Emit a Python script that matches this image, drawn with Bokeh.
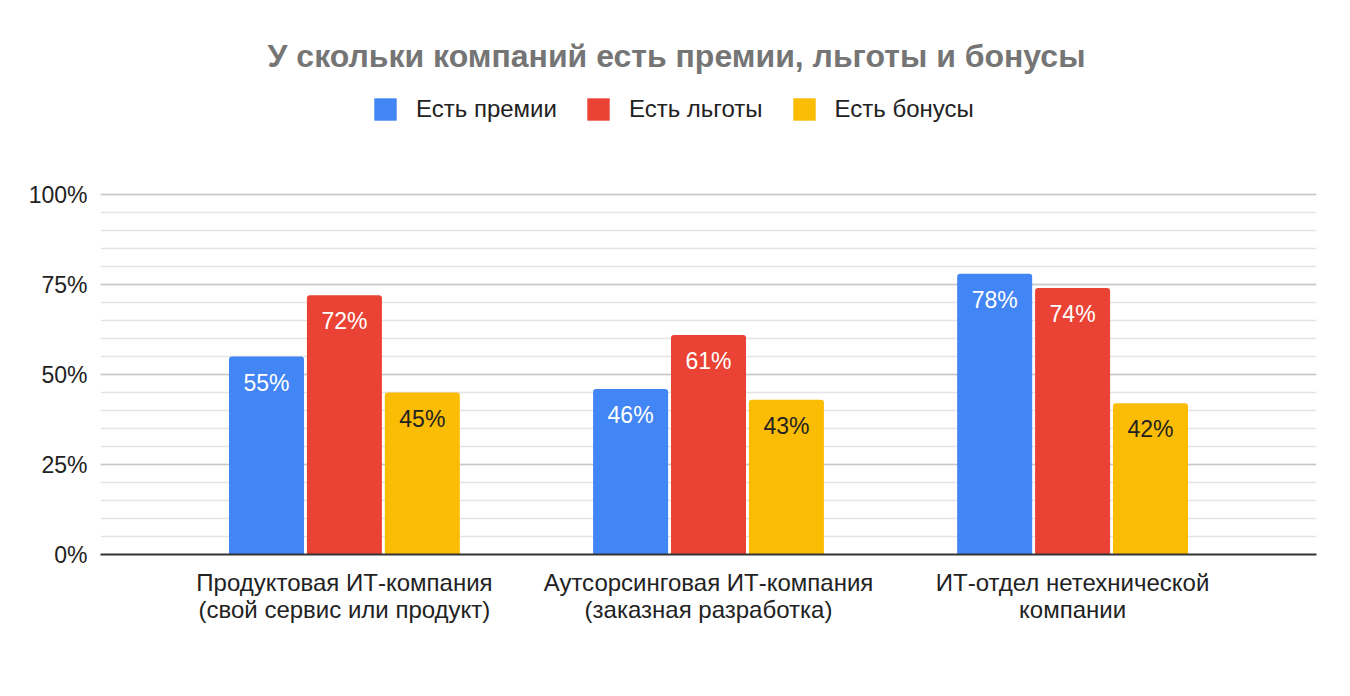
from bokeh.plotting import figure
from bokeh.models import ColumnDataSource, Range1d, FixedTicker, Legend, LegendItem, Label
from bokeh.transform import dodge
from bokeh.core.properties import value
from bokeh.embed import file_html
from bokeh.resources import INLINE

# ---- data ----
categories = [
    "Продуктовая ИТ-компания\n(свой сервис или продукт)",
    "Аутсорсинговая ИТ-компания\n(заказная разработка)",
    "ИТ-отдел нетехнической\nкомпании",
]
series_names = ["Есть премии", "Есть льготы", "Есть бонусы"]
premii = [55, 46, 78]
lgoty = [72, 61, 74]
bonusy = [45, 43, 42]
y_ticks = [0, 25, 50, 75, 100]
y_tick_labels = ["0%", "25%", "50%", "75%", "100%"]
title_text = "У скольки компаний есть премии, льготы и бонусы"

# ---- styles ----
colors = ["#4285F4", "#EA4335", "#FBBC04"]
label_colors = ["#FFFFFF", "#FFFFFF", "#222222"]
offsets = [-0.214, 0.0, 0.214]
bar_w = 0.206
AX_FONT = "Liberation Sans"
LEG_FONT = "Liberation Sans"

W, H = 1350, 696
BOTTOM = 142
frame_h = H - BOTTOM          # 554 px; 100% spans 360 px
y_end = 100 * frame_h / 360.0

p = figure(width=W, height=H, output_backend="svg", toolbar_location=None,
           x_range=Range1d(-0.67, 2.67), y_range=Range1d(0, y_end),
           min_border_left=100, min_border_right=34, min_border_top=0,
           min_border_bottom=BOTTOM)
p.outline_line_color = None
p.background_fill_color = "#ffffff"
p.border_fill_color = "#ffffff"

xs = list(range(len(categories)))
series = [premii, lgoty, bonusy]
items = []
for i, (name, vals) in enumerate(zip(series_names, series)):
    src = ColumnDataSource(dict(x=xs, v=vals, lbl=[f"{v}%" for v in vals]))
    r = p.vbar(x=dodge("x", offsets[i], range=p.x_range), top="v", bottom=0,
               width=bar_w, source=src, fill_color=colors[i], line_color=None,
               border_radius=[3, 3, 0, 0])
    p.text(x=dodge("x", offsets[i], range=p.x_range), y="v", text="lbl", source=src,
           text_align="center", text_baseline="middle", y_offset=26,
           text_color=label_colors[i], text_font=value(AX_FONT), text_font_size="23px")
    items.append(LegendItem(label=name, renderers=[r]))

# x axis
p.xaxis.ticker = FixedTicker(ticks=xs)
p.xaxis.major_label_overrides = {x: c for x, c in zip(xs, categories)}
p.xaxis.major_tick_line_color = None
p.xaxis.minor_tick_line_color = None
p.xaxis.axis_line_color = "#333333"
p.xaxis.axis_line_width = 2
p.xaxis.major_label_standoff = 8
p.xaxis.major_label_text_font = AX_FONT
p.xaxis.major_label_text_font_size = "24px"
p.xaxis.major_label_text_color = "#222222"
p.xaxis.major_label_text_line_height = 1.0
p.xgrid.grid_line_color = None

# y axis
yt = FixedTicker(ticks=y_ticks, minor_ticks=list(range(0, 101, 5)))
p.yaxis.ticker = yt
p.yaxis.major_label_overrides = {t: l for t, l in zip(y_ticks, y_tick_labels)}
p.yaxis.axis_line_color = None
p.yaxis.major_tick_line_color = None
p.yaxis.minor_tick_line_color = None
p.yaxis.major_label_standoff = 7
p.yaxis.major_label_text_font = AX_FONT
p.yaxis.major_label_text_font_size = "23px"
p.yaxis.major_label_text_color = "#222222"
p.ygrid.ticker = yt
p.ygrid.grid_line_color = "#c8c8c8"
p.ygrid.grid_line_width = 1.5
p.ygrid.minor_grid_line_color = "#e4e4e4"
p.ygrid.minor_grid_line_width = 1.5

legend = Legend(items=items, location=(271, 431), orientation="horizontal",
                glyph_width=28, glyph_height=28, label_height=28,
                label_standoff=17, spacing=27, padding=0, margin=0,
                border_line_color=None, background_fill_alpha=0,
                label_text_font=LEG_FONT, label_text_font_size="24px",
                label_text_color="#222222")
p.add_layout(legend)

title = Label(x=576, y=499, x_units="screen", y_units="screen", text=title_text,
              text_align="center", text_baseline="middle", text_font=AX_FONT,
              text_font_style="bold", text_font_size="32px", text_color="#757575")
p.add_layout(title)

open("out.html", "w").write(file_html(p, INLINE))
